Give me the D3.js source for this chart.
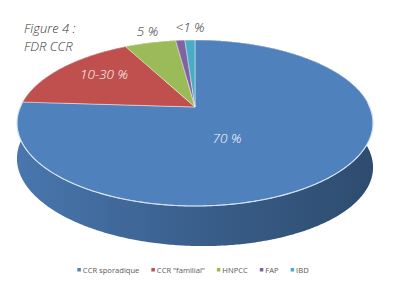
<!DOCTYPE html>
<html>
<head>
<meta charset="utf-8">
<script src="https://cdn.jsdelivr.net/npm/d3@7"></script>
<style>
  html, body { margin: 0; padding: 0; background: #fff; }
  svg { display: block; }
</style>
</head>
<body>
<svg id="chart" width="400" height="291"></svg>
<script>
// ---- data ----
const categories = ["CCR sporadique", "CCR \"familial\"", "HNPCC", "FAP", "IBD"];
const values = [76, 16.3, 5.6, 1.0, 1.1];
const valueLabels = ["70 %", "10-30 %", "5 %", "<1 %", null];
const titleLines = ["Figure 4 :", "FDR CCR"];

// ---- styling / layout ----
const colors = ["#4F81BD", "#C0504D", "#9BBB59", "#8064A2", "#4BACC6"];
const cx = 195, cy = 107;       // projected centre of the pie
const A = 174.7, B = 79.9;      // horizontal / vertical radii before perspective
const k = -0.193;               // perspective factor
const D0 = 40, D1 = 4.5;        // side depth
const labelFont = "'Open Sans', sans-serif";
const labelLayout = [
  {x: 227, y: 143, fill: "#ffffff"},
  {x: 104, y: 79, fill: "#ffffff"},
  {x: 147.5, y: 36, fill: "#333333"},
  {x: 190, y: 32, fill: "#333333"},
  null
];

const svg = d3.select("#chart");
const defs = svg.append("defs");

function proj(theta, r, z) {
  const u = r * Math.sin(theta), v = -r * Math.cos(theta);
  const den = 1 + k * v;
  return [cx + A * u / den, cy + B * v / den + z * (D0 + D1 * u)];
}

const pie = d3.pie().sort(null).value(d => d);
const arcs = pie(values);
const color = d3.scaleOrdinal().domain(categories).range(colors);

arcs.forEach((a, i) => {
  const c = d3.color(colors[i]);
  const g = defs.append("linearGradient").attr("id", "side" + i)
    .attr("gradientUnits", "userSpaceOnUse")
    .attr("x1", cx - A).attr("x2", cx + A).attr("y1", 0).attr("y2", 0);
  g.append("stop").attr("offset", 0).attr("stop-color", c.darker(0.25));
  g.append("stop").attr("offset", 0.5).attr("stop-color", c.darker(0.85));
  g.append("stop").attr("offset", 1).attr("stop-color", c.darker(1.5));
});

function arcPoints(a0, a1, r, z) {
  const n = Math.max(2, Math.ceil((a1 - a0) / 0.01));
  return d3.range(n + 1).map(j => proj(a0 + (a1 - a0) * j / n, r, z));
}

const line = d3.line();

const walls = svg.append("g");
arcs.forEach((a, i) => {
  const top = arcPoints(a.startAngle, a.endAngle, 1, 0);
  const bot = arcPoints(a.startAngle, a.endAngle, 1, 1).reverse();
  walls.append("path")
    .attr("d", line(top.concat(bot)) + "Z")
    .attr("fill", `url(#side${i})`);
});

const tops = svg.append("g");
arcs.forEach((a, i) => {
  const pts = [proj(0, 0, 0)].concat(arcPoints(a.startAngle, a.endAngle, 1, 0));
  tops.append("path")
    .attr("d", line(pts) + "Z")
    .attr("fill", color(categories[i]))
    .attr("stroke", "rgba(255,255,255,0.55)")
    .attr("stroke-width", 0.8)
    .attr("stroke-linejoin", "round");
});

const edge = arcPoints(Math.PI / 2 - 0.05, 3 * Math.PI / 2 + 0.05, 1, 0);
svg.append("path").attr("d", line(edge))
  .attr("fill", "none").attr("stroke", "#d8e3f0").attr("stroke-width", 1.1);

const lbl = svg.append("g")
  .attr("font-family", labelFont)
  .attr("font-style", "italic")
  .attr("font-weight", 300)
  .attr("font-size", 13.5);
valueLabels.forEach((t, i) => {
  if (!t) return;
  const L = labelLayout[i];
  lbl.append("text").attr("x", L.x).attr("y", L.y)
    .attr("text-anchor", "middle").attr("fill", L.fill).text(t);
});

const title = svg.append("g")
  .attr("font-family", labelFont)
  .attr("font-style", "italic")
  .attr("font-weight", 300)
  .attr("font-size", 13)
  .attr("fill", "#333333");
titleLines.forEach((t, i) => {
  title.append("text").attr("x", 24).attr("y", 33 + i * 17.5).text(t);
});

const legend = svg.append("g")
  .attr("font-family", "'Open Sans', sans-serif")
  .attr("font-size", 7.6)
  .attr("fill", "#595959");
let lx = 0;
categories.forEach((c, i) => {
  const g = legend.append("g");
  g.append("rect").attr("x", 0).attr("y", -4.5).attr("width", 3.5).attr("height", 3.5)
    .attr("fill", color(c));
  const t = g.append("text").attr("x", 5.5).attr("y", 0).text(c);
  const w = 5.5 + t.node().getComputedTextLength();
  g.attr("transform", `translate(${lx},0)`);
  lx += w + 12;
});
const totalW = lx - 12;
legend.attr("transform", `translate(${193 - totalW / 2},272.5)`);
</script>
</body>
</html>
